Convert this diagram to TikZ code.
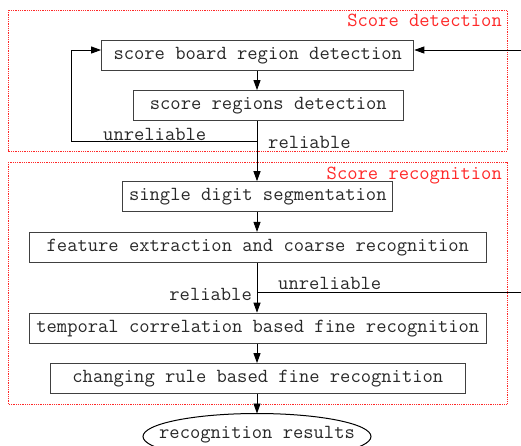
\documentclass[tikz,border=0pt]{standalone}
\usetikzlibrary{arrows.meta,shapes.geometric}
\definecolor{txt}{RGB}{40,40,40}
\definecolor{boxline}{RGB}{64,64,64}
\definecolor{redline}{RGB}{255,40,40}
\tikzset{
  procbox/.style={draw=boxline, line width=1.2pt, inner sep=0pt, text=txt,
    font=\ttfamily\fontsize{20}{22}\selectfont, minimum height=30pt},
  lbl/.style={inner sep=0pt, text=txt, font=\ttfamily\fontsize{20}{22}\selectfont},
  grouplbl/.style={inner sep=0pt, text=redline, font=\ttfamily\fontsize{20}{22}\selectfont},
  groupbox/.style={draw=redline, line width=0.8pt, densely dotted},
  conn/.style={draw=black, line width=0.9pt},
  arr/.style={conn, -{Triangle[length=10pt,width=7pt]}},
  resnode/.style={inner sep=0pt, text=txt, font=\ttfamily\fontsize{20}{22}\selectfont},
  resline/.style={draw=black, line width=1pt}
}
\begin{document}
\begin{tikzpicture}[x=1pt,y=-1pt]
\useasboundingbox (0,0) rectangle (521,445);
\clip (0,0) rectangle (521,445);
% group frames
\draw[groupbox] (8,10) rectangle (507,151);
\draw[groupbox] (8,162) rectangle (507,404);
\node[grouplbl, anchor=base east] (gl1) at (502,26) {Score detection};
\node[grouplbl, anchor=base east] (gl2) at (502,179.5) {Score recognition};
% column
\coordinate (cx) at (257,0);
% boxes
\node[procbox, minimum width=312pt] (b1) at (257.7,55.2) {score board region detection};
\node[procbox, minimum width=270pt] (b2) at (268.3,105.7) {score regions detection};
\node[procbox, minimum width=270pt] (b3) at (257.8,196.8) {single digit segmentation};
\node[procbox, minimum width=457pt] (b4) at (257.8,247.5) {feature extraction and coarse recognition};
\node[procbox, minimum width=457pt] (b5) at (257.8,328.3) {temporal correlation based fine recognition};
\node[procbox, minimum width=415pt] (b6) at (257.8,378.7) {changing rule based fine recognition};
\node[resnode] (res) at (257,435) {recognition results};
\draw[resline] (257,436.5) ellipse [x radius=114pt, y radius=23pt];
\coordinate (restop) at (257,413.5);
% labels
\node[lbl, anchor=base west] (u1) at (103,140) {unreliable};
\node[lbl, anchor=base west] (r1) at (268,148) {reliable};
\node[lbl, anchor=base west] (u2) at (278,289.3) {unreliable};
\node[lbl, anchor=base east] (r2) at (252,300) {reliable};
% helper coordinates
\coordinate (rin) at (521,50);
\coordinate (loopy) at (0,141);
\coordinate (loopx) at (71,0);
\coordinate (br) at (257,292.7);
\coordinate (rout) at (521,292.7);
% connectors
\draw[arr] (rin) -- (rin -| b1.east);
\draw[arr] (b1.south -| cx) -- (b2.north -| cx);
\draw[arr] (b2.south -| cx) -- (b3.north -| cx);
\draw[arr] (loopy -| cx) -- (loopy -| loopx) -- (rin -| loopx) -- (rin -| b1.west);
\draw[arr] (b3.south -| cx) -- (b4.north -| cx);
\draw[arr] (b4.south -| cx) -- (b5.north -| cx);
\draw[conn] (br) -- (rout);
\draw[arr] (b5.south -| cx) -- (b6.north -| cx);
\draw[arr] (b6.south -| cx) -- (restop);
\end{tikzpicture}
\end{document}
